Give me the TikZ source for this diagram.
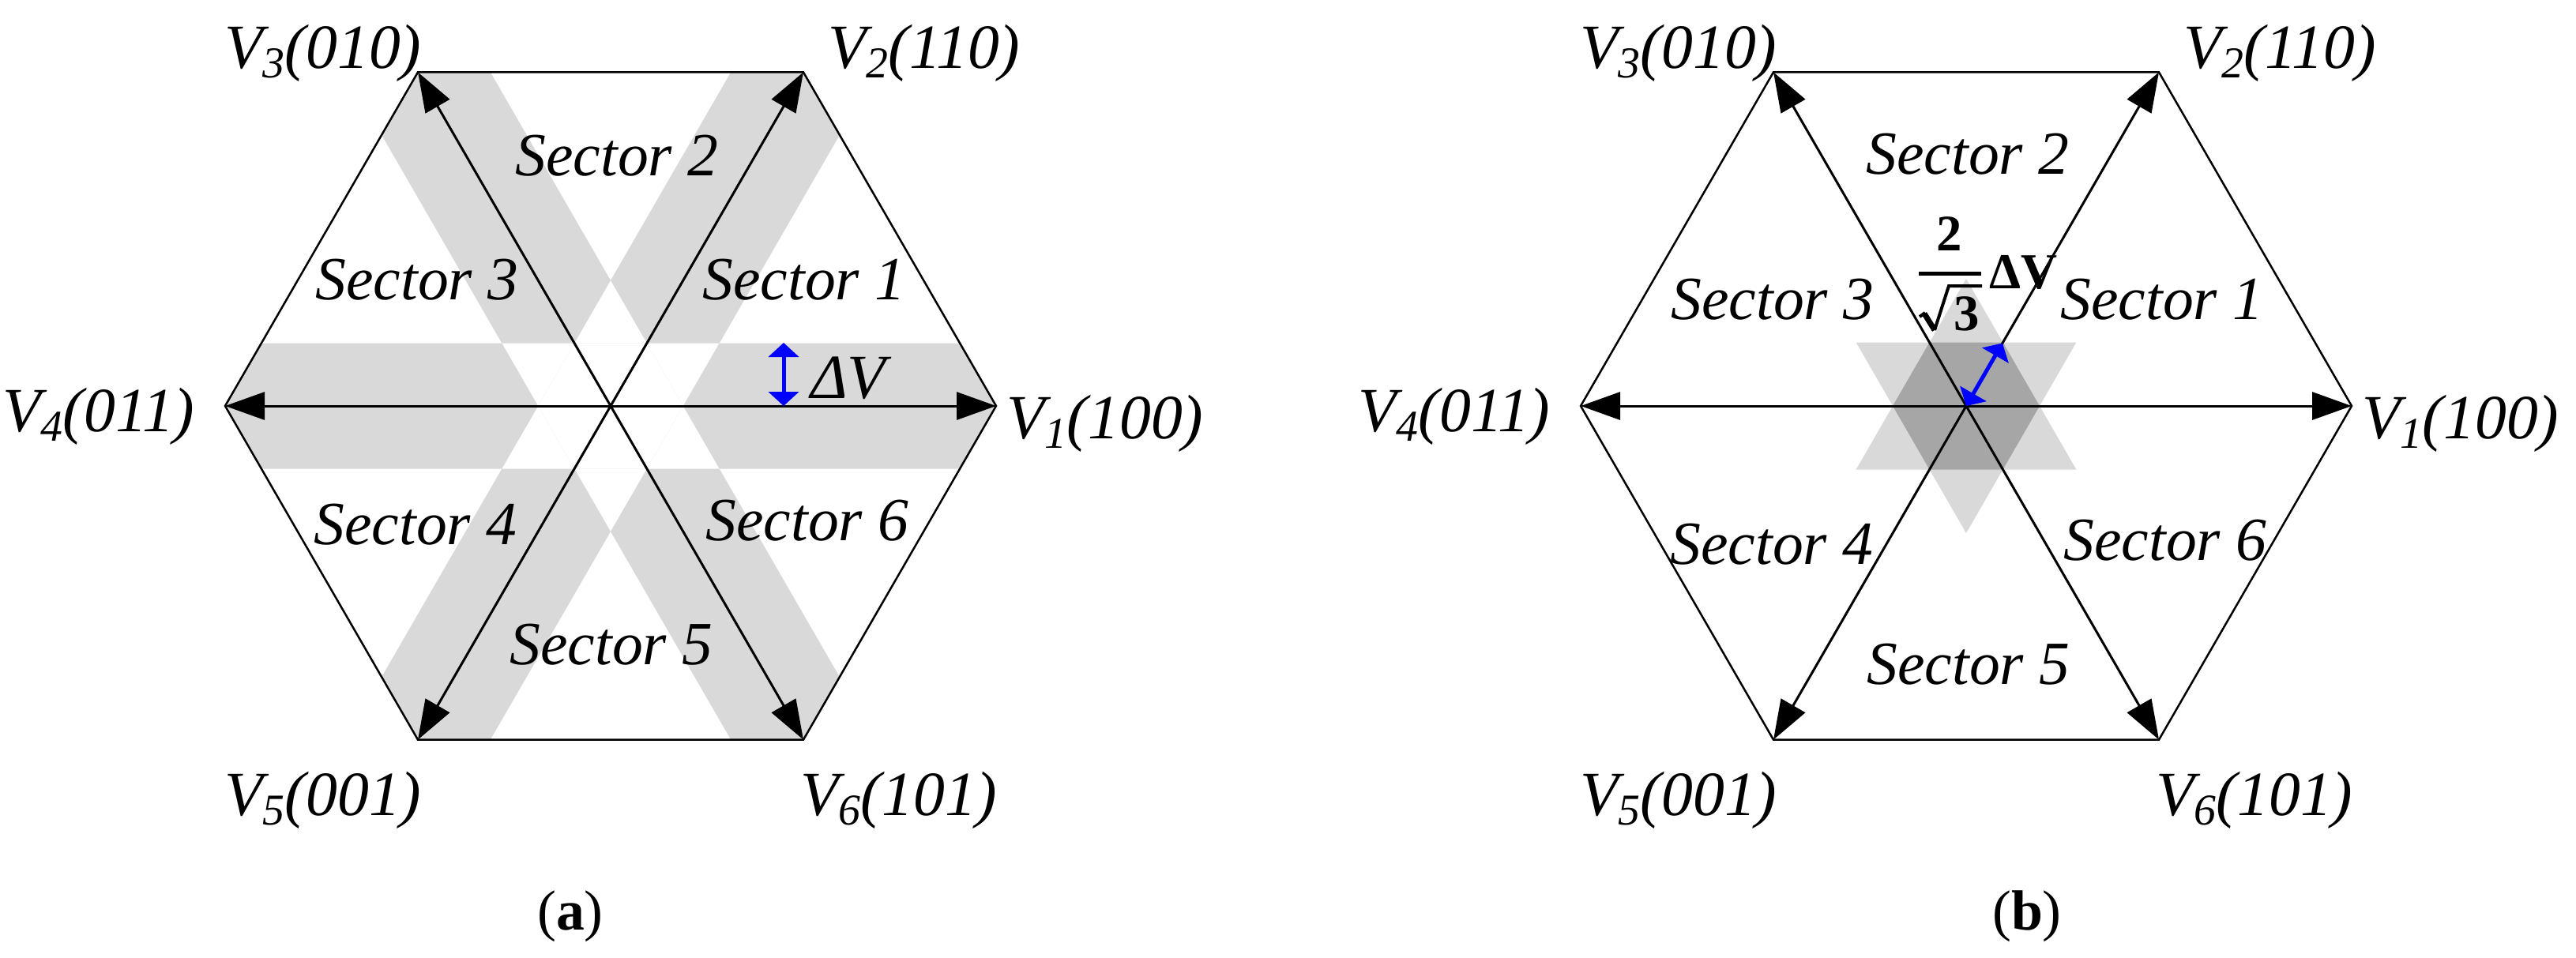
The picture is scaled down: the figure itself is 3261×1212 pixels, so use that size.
\documentclass[tikz,border=0pt]{standalone}
\usepackage{fontspec}
\setmainfont{Liberation Serif}[ItalicFont={Liberation Serif Italic},BoldFont={Liberation Serif Bold}]
\usetikzlibrary{arrows.meta}
\definecolor{lgray}{RGB}{217,217,217}
\definecolor{dgray}{RGB}{166,166,166}
\definecolor{vblue}{RGB}{0,0,255}
\tikzset{
  hexedge/.style={line width=2.5bp, line join=miter},
  vec/.style={line width=3bp, -{Triangle[length=50bp,width=35bp]}},
  dvec/.style={line width=5bp, draw=vblue, {Triangle[length=18bp,width=38bp,fill=vblue]}-{Triangle[length=18bp,width=38bp,fill=vblue]}},
  vlab/.style={font=\fontsize{80}{96}\selectfont\itshape, anchor=base west, inner sep=0pt},
  slab/.style={font=\fontsize{78}{94}\selectfont\itshape, anchor=base, inner sep=0pt},
  caplab/.style={font=\fontsize{72}{86}\selectfont, anchor=base, inner sep=0pt},
  fraclab/.style={font=\fontsize{65}{78}\selectfont\bfseries, anchor=base, inner sep=0pt},
}
\newcommand{\vsub}[2]{V\raisebox{-12bp}{\fontsize{56}{60}\selectfont #1}(#2)}
\begin{document}
\begin{tikzpicture}[x=1bp,y=-1bp]
\useasboundingbox (0,0) rectangle (3261,1212);
% ---------------- panel (a)
\begin{scope}[shift={(773,514)}]
  \coordinate (Oa) at (0,0);
  \coordinate (a1) at (488,0);
  \coordinate (a2) at (244,-422.6);
  \coordinate (a3) at (-244,-422.6);
  \coordinate (a4) at (-488,0);
  \coordinate (a5) at (-244,422.6);
  \coordinate (a6) at (244,422.6);
  \begin{scope}
    \clip (a1)--(a2)--(a3)--(a4)--(a5)--(a6)--cycle;
    \fill[lgray, even odd rule] (-600,-79.5) rectangle (600,79.5)
      (368.85,-479.85) -- (231.15,-559.35) -- (-368.85,479.85) -- (-231.15,559.35) -- cycle
      (-368.85,-479.85) -- (-231.15,-559.35) -- (368.85,479.85) -- (231.15,559.35) -- cycle;
  \end{scope}
  \fill[white] (91.8,0) -- (45.9,79.5) -- (-45.9,79.5) -- (-91.8,0) -- (-45.9,-79.5) -- (45.9,-79.5) -- cycle;
  \draw[hexedge] (a1)--(a2)--(a3)--(a4)--(a5)--(a6)--cycle;
  \foreach \i in {1,...,6} \draw[vec] (Oa) -- (a\i);
  \coordinate (dA) at (219,0);
  \coordinate (dB) at (219,-80);
  \draw[dvec] (dA) -- (dB);
\end{scope}
% ---------------- panel (b)
\begin{scope}[shift={(2489,514)}]
  \coordinate (Ob) at (0,0);
  \coordinate (b1) at (488,0);
  \coordinate (b2) at (244,-422.6);
  \coordinate (b3) at (-244,-422.6);
  \coordinate (b4) at (-488,0);
  \coordinate (b5) at (-244,422.6);
  \coordinate (b6) at (244,422.6);
  \fill[lgray] (0,-161) -- (139.4,80.5) -- (-139.4,80.5) -- cycle;
  \fill[lgray] (0,161) -- (139.4,-80.5) -- (-139.4,-80.5) -- cycle;
  \fill[dgray] (93,0) -- (46.5,80.5) -- (-46.5,80.5) -- (-93,0) -- (-46.5,-80.5) -- (46.5,-80.5) -- cycle;
  \draw[hexedge] (b1)--(b2)--(b3)--(b4)--(b5)--(b6)--cycle;
  \foreach \i in {1,...,6} \draw[vec] (Ob) -- (b\i);
  \coordinate (dC) at (45.9,-79.5);
  \draw[dvec] (Ob) -- (dC);
\end{scope}
% ---------------- vertex labels
\node[vlab] (la3) at (284,86) {\vsub{3}{010}};
\node[vlab] (la2) at (1048,86) {\vsub{2}{110}};
\node[vlab] (la1) at (1274,555) {\vsub{1}{100}};
\node[vlab] (la4) at (3,546) {\vsub{4}{011}};
\node[vlab] (la5) at (284,1032) {\vsub{5}{001}};
\node[vlab] (la6) at (1013,1032) {\vsub{6}{101}};
\node[vlab] (lb3) at (2000,86) {\vsub{3}{010}};
\node[vlab] (lb2) at (2764,86) {\vsub{2}{110}};
\node[vlab] (lb1) at (2990,555) {\vsub{1}{100}};
\node[vlab] (lb4) at (1719,546) {\vsub{4}{011}};
\node[vlab] (lb5) at (2000,1032) {\vsub{5}{001}};
\node[vlab] (lb6) at (2729,1032) {\vsub{6}{101}};
% ---------------- sector labels
\node[slab] (sa1) at (1018,379) {Sector 1};
\node[slab] (sa2) at (781,222) {Sector 2};
\node[slab] (sa3) at (528,379) {Sector 3};
\node[slab] (sa4) at (526,689) {Sector 4};
\node[slab] (sa5) at (774,841) {Sector 5};
\node[slab] (sa6) at (1022,684) {Sector 6};
\node[slab] (sb1) at (2737,404) {Sector 1};
\node[slab] (sb2) at (2491,220) {Sector 2};
\node[slab] (sb3) at (2244,404) {Sector 3};
\node[slab] (sb4) at (2243,714) {Sector 4};
\node[slab] (sb5) at (2492,866) {Sector 5};
\node[slab] (sb6) at (2741,709) {Sector 6};
% ---------------- delta labels
\node[vlab] (dva) at (1026,504) {ΔV};
\node[fraclab] (fn) at (2468,317) {2};
\draw[line width=5bp] (2429,346.5) -- (2508,346.5);
\node[fraclab] (fd) at (2490,418) {3};
\draw[line width=7bp] (2436,397) -- (2449,418);
\draw[line width=4bp, line join=miter] (2430,401) -- (2437,396);
\draw[line width=4bp, line join=miter] (2449,418) -- (2467,362) -- (2509,362);
\node[fraclab, anchor=base west, font=\fontsize{64}{78}\selectfont\bfseries] (fdv) at (2518,365) {ΔV};
% ---------------- captions
\node[caplab] (ca) at (722,1177) {(\textbf{a})};
\node[caplab] (cb) at (2566,1177) {(\textbf{b})};
\end{tikzpicture}
\end{document}
